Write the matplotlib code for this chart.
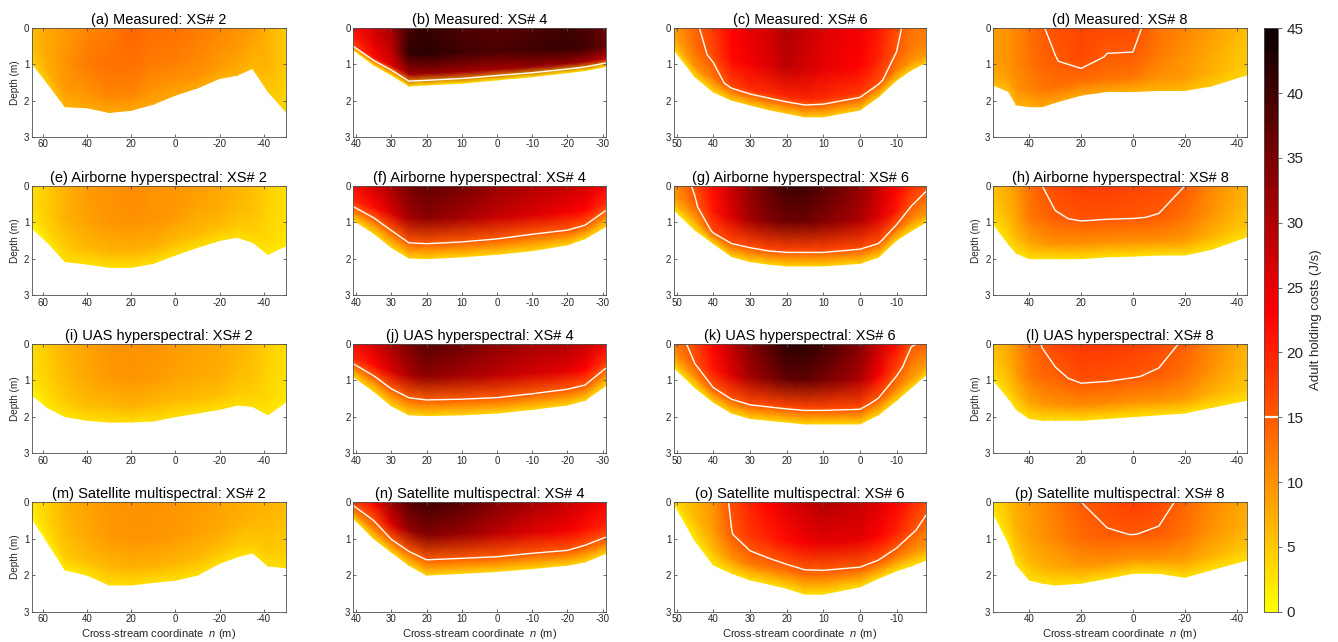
import numpy as np
import matplotlib
matplotlib.use('Agg')
import matplotlib.pyplot as plt
from matplotlib.colors import ListedColormap, Normalize
from matplotlib.cm import ScalarMappable

plt.rcParams['font.family'] = ['Liberation Sans', 'DejaVu Sans']
plt.rcParams['mathtext.fontset'] = 'custom'
plt.rcParams['mathtext.it'] = 'Liberation Sans:italic'
plt.rcParams['mathtext.rm'] = 'Liberation Sans'
plt.rcParams['axes.unicode_minus'] = False

# ---------------- data ----------------
rel_depth = [0.0, 0.45, 0.8, 1.0]   # fraction of local flow depth at which values are given

n_xs2 = [65, 58, 50, 40, 30, 20, 10, 0, -10, -20, -28, -35, -42, -50]
n_xs4 = [40.8, 35, 30, 25, 20, 10, 0, -10, -20, -25, -30.9]
n_xs6 = [50.7, 45, 40, 35, 30, 25, 20, 15, 10, 0, -5, -10, -14, -18]
n_xs8 = [53.9, 48, 45, 40, 35, 30, 20, 10, 0, -10, -20, -30, -43.9]

xlim_xs = [(65, -50), (40.8, -30.9), (50.7, -18), (53.9, -43.9)]
xticks_xs = [[60, 40, 20, 0, -20, -40],
             [40, 30, 20, 10, 0, -10, -20, -30],
             [50, 40, 30, 20, 10, 0, -10],
             [40, 20, 0, -20, -40]]

methods = ['Measured', 'Airborne hyperspectral', 'UAS hyperspectral', 'Satellite multispectral']
xs_names = ['2', '4', '6', '8']
letters = list('abcdefghijklmnop')

# bed depth (m) at the nodes
bed_a = [0.97, 1.52, 2.17, 2.2, 2.33, 2.27, 2.1, 1.85, 1.65, 1.39, 1.3, 1.11, 1.75, 2.3]
bed_b = [0.6, 1.02, 1.29, 1.6, 1.57, 1.52, 1.43, 1.34, 1.23, 1.17, 1.06]
bed_c = [0.6, 1.34, 1.76, 1.99, 2.12, 2.25, 2.35, 2.45, 2.45, 2.26, 1.9, 1.43, 1.15, 0.95]
bed_d = [1.57, 1.75, 2.12, 2.17, 2.17, 2.05, 1.85, 1.75, 1.75, 1.72, 1.72, 1.6, 1.29]
bed_e = [1.16, 1.55, 2.08, 2.15, 2.24, 2.24, 2.13, 1.9, 1.69, 1.5, 1.41, 1.55, 1.88, 1.65]
bed_f = [0.94, 1.3, 1.69, 1.98, 2.0, 1.95, 1.88, 1.78, 1.62, 1.45, 1.12]
bed_g = [0.66, 1.21, 1.58, 1.94, 2.08, 2.15, 2.2, 2.2, 2.2, 2.13, 1.96, 1.49, 1.23, 1.0]
bed_h = [1.05, 1.6, 1.85, 2.0, 2.0, 2.0, 2.0, 1.95, 1.93, 1.9, 1.9, 1.75, 1.4]
bed_i = [1.4, 1.75, 2.0, 2.1, 2.15, 2.15, 2.12, 2.0, 1.9, 1.8, 1.68, 1.72, 1.95, 1.6]
bed_j = [0.9, 1.3, 1.7, 1.95, 1.97, 1.95, 1.9, 1.8, 1.68, 1.55, 1.15]
bed_k = [0.65, 1.2, 1.6, 1.9, 2.05, 2.1, 2.15, 2.2, 2.2, 2.2, 1.95, 1.55, 1.2, 0.85]
bed_l = [1.0, 1.5, 1.8, 2.05, 2.1, 2.1, 2.1, 2.05, 2.0, 1.95, 1.9, 1.75, 1.55]
bed_m = [0.45, 1.1, 1.86, 2.0, 2.27, 2.27, 2.2, 2.14, 2.0, 1.68, 1.5, 1.39, 1.75, 1.8]
bed_n = [0.45, 1.0, 1.37, 1.73, 2.0, 1.95, 1.9, 1.82, 1.73, 1.64, 1.41]
bed_o = [0.05, 1.05, 1.72, 1.95, 2.13, 2.24, 2.36, 2.52, 2.52, 2.32, 2.09, 1.88, 1.75, 1.59]
bed_p = [0.31, 1.13, 1.72, 2.13, 2.22, 2.27, 2.22, 2.09, 1.95, 1.95, 2.06, 1.86, 1.59]

# holding costs (J/s) at each node, at the relative depths in rel_depth
val_a = [[6, 6, 5, 4], [8, 8, 7, 5], [9, 10, 9, 7], [11, 12, 10, 8], [12, 13, 11, 8],
         [14, 13, 11, 8], [13, 12, 10, 8], [13, 12, 10, 8], [12, 11, 10, 8], [11, 10, 9, 7],
         [10, 9, 8, 7], [9, 8, 7, 6], [7, 7, 6, 5], [5, 5, 4, 4]]
val_b = [[22, 20, 17, 3], [27, 25, 22, 3], [31, 29, 26, 3], [40, 41, 31, 3], [41, 42, 32, 3],
         [39, 40, 31, 3], [38, 39, 31, 3], [39, 40, 32, 3], [40, 41, 32, 3], [39, 40, 31, 3],
         [36, 37, 29, 3]]
val_c = [[9, 8, 6, 3], [14, 13, 10, 4], [18, 16, 12, 4], [23, 22, 17, 5], [25, 24, 19, 5],
         [27, 26, 19, 5], [30, 29, 20, 5], [28, 27, 20, 5], [26, 25, 19, 5], [24, 23, 18, 5],
         [21, 20, 16, 5], [16, 15, 12, 5], [13, 12, 10, 5], [12, 11, 9, 5]]
val_d = [[9, 9, 8, 6], [10, 10, 9, 6], [11, 11, 10, 7], [13, 12.5, 11, 7], [14.8, 14.2, 12, 8],
         [15.8, 14.8, 13, 8], [17, 16.5, 13, 8], [16.5, 14.8, 12.5, 8], [16, 14.8, 12, 7],
         [13, 12, 10, 7], [11, 10, 9, 6], [9, 8, 7, 5], [6, 5, 5, 4]]
val_e = [[3, 3, 2, 1], [5, 5, 4, 2], [7, 7, 5, 3], [9, 8.5, 6.5, 3], [10, 9.5, 7, 3],
         [10.5, 10, 7, 3], [10, 9.5, 7, 3], [9.5, 9, 6.5, 3], [9, 8, 6, 3], [8, 7.5, 5.5, 3],
         [7, 6.5, 5, 3], [6, 5.5, 4.5, 3], [4.5, 4, 3.5, 2], [3, 3, 2.5, 2]]
val_f = [[22, 19, 10, 4], [27, 22, 11, 4], [31, 26, 12, 4], [35, 31, 14.5, 4], [37, 33, 14.7, 4],
         [35, 31, 14.5, 4], [32, 28, 14, 4], [30, 26, 13, 4], [28, 24, 13.5, 4], [27, 23, 13.5, 4],
         [23, 19, 10, 4]]
val_g = [[10, 9, 6, 3], [16, 14, 8, 3], [22, 21, 16, 4], [28, 26, 16, 4], [33, 31, 16, 4],
         [37, 34, 17, 4], [40, 36, 17, 4], [40, 36, 17, 4], [38, 34, 17, 4], [33, 30, 16, 4],
         [28, 26, 15.5, 4], [23, 21, 13, 4], [19, 15, 10, 4], [16.5, 12, 9, 4]]
val_h = [[6, 5, 4, 2], [8, 7, 5, 3], [9.5, 8.5, 6, 3], [13, 12, 8, 3], [15, 13.5, 9, 3],
         [16.5, 14.5, 10, 3], [17.5, 15.5, 10, 3], [17.5, 15.3, 10, 3], [17, 15.2, 10, 3],
         [16.5, 14.8, 10, 3], [15, 13, 9, 3], [11, 10, 7, 3], [7, 6, 5, 3]]
val_i = [[3, 3, 2, 1], [5, 4.5, 3.5, 2], [7, 6.5, 5, 2.5], [8.5, 8, 6, 3], [9.5, 9, 6.5, 3],
         [10, 9.5, 7, 3], [9.5, 9, 6.5, 3], [9, 8.5, 6, 3], [8.5, 8, 6, 3], [8, 7.5, 5.5, 3],
         [7, 6.5, 5, 3], [6, 5.5, 4.5, 3], [4.5, 4, 3.5, 2], [3, 3, 2.5, 2]]
val_j = [[22, 19, 10, 4], [27, 22, 11, 4], [31, 26, 12, 4], [35, 30, 13, 4], [38, 33, 14, 4],
         [36, 31, 14, 4], [33, 29, 14, 4], [31, 27, 13.5, 4], [30, 25, 13, 4], [28, 23, 13, 4],
         [24, 18, 10, 4]]
val_k = [[12, 10, 6, 3], [17, 15, 9, 3], [23, 21, 14, 4], [29, 26, 15, 4], [34, 31, 16, 4],
         [38, 34, 16.5, 4], [42, 37, 17, 4], [42, 37, 17, 4], [40, 35, 17, 4], [34, 30, 16, 4],
         [28, 24, 14, 4], [22, 17, 11, 4], [15.5, 12, 9, 4], [14, 11, 8, 4]]
val_l = [[6, 5, 4, 2], [8, 7, 5, 3], [10, 9, 6, 3], [13.5, 12, 8, 3], [15.2, 13.5, 9, 3],
         [17, 14, 10, 3], [18, 16, 10.5, 3], [18, 15.8, 10.5, 3], [17.5, 15.2, 10, 3],
         [16.5, 14.5, 10, 3], [14.5, 13, 9, 3], [11, 10, 7, 3], [7, 6, 5, 3]]
val_m = [[2, 2, 1.5, 1], [4.5, 4, 3, 1.5], [7, 6.5, 5, 2], [8.5, 8, 6, 2.5], [9.5, 9, 6.5, 3],
         [10, 9.5, 7, 3], [10, 9.5, 7, 3], [9.5, 9, 6.5, 3], [9, 8.5, 6, 3], [8.5, 8, 5.5, 3],
         [8, 7, 5, 3], [7.5, 6.5, 5, 3], [7, 6, 5, 3], [6.5, 5.5, 4.5, 3]]
val_n = [[17, 13, 8, 3], [24, 16, 10, 4], [32, 26, 13, 4], [38, 32, 14, 4], [40, 34, 14.5, 4],
         [38, 32, 14.5, 4], [34, 29, 14.5, 4], [31, 26, 14, 4], [28, 24, 14, 4], [26, 22, 13, 4],
         [23, 20, 12.5, 4]]
val_o = [[3, 3, 2, 1.5], [7, 6, 4, 2], [10, 9, 6, 2.5], [16, 14.8, 10, 3], [20, 18, 12, 3],
         [23, 20, 12.5, 3], [26, 22, 13, 3], [28, 24, 13, 3], [30, 25, 13, 3], [28, 25, 14, 3],
         [26, 23, 14, 3], [23, 20, 12, 3], [20, 16, 10, 3], [17, 13, 9, 3]]
val_p = [[3, 3, 2, 1.5], [6, 5, 4, 2], [7.5, 7, 5, 2.5], [9, 8.5, 6, 3], [10.5, 10, 7, 3],
         [12, 11, 7.5, 3], [15, 13.5, 9, 3], [16.5, 14.5, 10, 3], [17.5, 15.1, 10, 3],
         [16.5, 14.5, 10, 3], [14, 12.5, 8.5, 3], [11, 10, 7, 3], [8, 7, 5, 3]]

nodes_xs = [n_xs2, n_xs4, n_xs6, n_xs8]
beds = [[bed_a, bed_b, bed_c, bed_d], [bed_e, bed_f, bed_g, bed_h],
        [bed_i, bed_j, bed_k, bed_l], [bed_m, bed_n, bed_o, bed_p]]
vals = [[val_a, val_b, val_c, val_d], [val_e, val_f, val_g, val_h],
        [val_i, val_j, val_k, val_l], [val_m, val_n, val_o, val_p]]

contour_level = 15
vmin, vmax = 0, 45

# ---------------- style ----------------
W, H = 1338, 642
col_lr = [(32, 285.7), (353.3, 605.7), (674, 926), (993.3, 1246.7)]
row_tb = [(28.3, 136.7), (186, 295), (344, 453), (502, 611.7)]

hot = plt.get_cmap('hot')
cmap = ListedColormap(hot(np.linspace(0.746, 0.0, 256)))
norm = Normalize(vmin, vmax)

spine_c = '#505050'
text_c = '#262626'

fig = plt.figure(figsize=(W / 100, H / 100), dpi=100)

for r in range(4):
    for c in range(4):
        l, rr = col_lr[c]
        t, b = row_tb[r]
        ax = fig.add_axes([l / W, 1 - b / H, (rr - l) / W, (b - t) / H])
        nodes = np.array(nodes_xs[c], dtype=float)
        bed = np.array(beds[r][c], dtype=float)
        V = np.array(vals[r][c], dtype=float).T
        X = np.tile(nodes, (len(rel_depth), 1))
        Y = np.outer(rel_depth, bed)
        ax.pcolormesh(X, Y, V, shading='gouraud', cmap=cmap, norm=norm, rasterized=True)
        ax.contour(X, Y, V, levels=[contour_level], colors='white', linewidths=1.0)
        ax.set_xlim(*xlim_xs[c])
        ax.set_ylim(3, 0)
        ax.set_yticks([0, 1, 2, 3])
        ax.set_xticks(xticks_xs[c])
        ax.tick_params(direction='in', length=2.5, width=0.6, labelsize=7,
                       colors=spine_c, labelcolor=text_c, top=True, right=True, pad=2)
        for s in ax.spines.values():
            s.set_color(spine_c)
            s.set_linewidth(0.6)
        ax.set_title(f'({letters[r * 4 + c]}) {methods[r]}: XS# {xs_names[c]}',
                     fontsize=10.5, color='black', pad=3)
        if c == 0 or (c == 3 and r in (1, 2)):
            ax.set_ylabel('Depth (m)', fontsize=7.2, color=text_c, labelpad=3)
        if r == 3:
            ax.set_xlabel(r'Cross-stream coordinate  $n$ (m)', fontsize=8, color=text_c, labelpad=2)

# colorbar
cax = fig.add_axes([1264 / W, 1 - 611.7 / H, 13.5 / W, (611.7 - 28.3) / H])
cb = fig.colorbar(ScalarMappable(norm=norm, cmap=cmap), cax=cax, ticks=np.arange(0, 50, 5))
cb.ax.tick_params(labelsize=11, length=3, width=0.6, colors=spine_c, labelcolor=text_c, direction='out')
cb.outline.set_edgecolor(spine_c)
cb.outline.set_linewidth(0.6)
cb.ax.axhline(contour_level, color='white', lw=1.6)
cb.set_label('Adult holding costs (J/s)', fontsize=9.5, color=text_c, labelpad=5)

fig.savefig('out.png', dpi=100)
